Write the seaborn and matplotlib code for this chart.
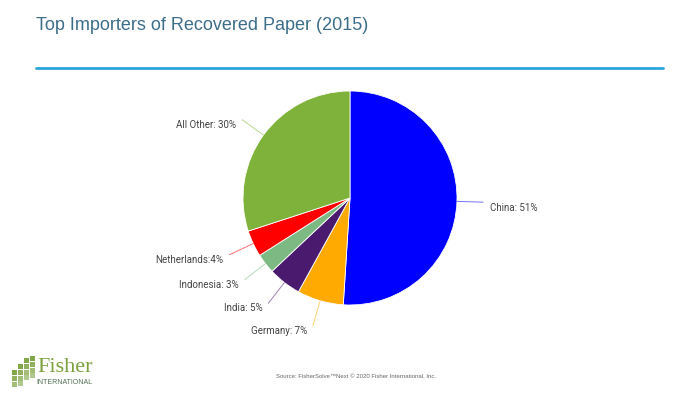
import numpy as np
import matplotlib.pyplot as plt
import matplotlib.patches as mpatches
import seaborn as sns

# Data
countries = ['China', 'Germany', 'India', 'Indonesia', 'Netherlands', 'All Other']
shares = [51, 7, 5, 3, 4, 30]
labels = ['China: 51%', 'Germany: 7%', 'India: 5%', 'Indonesia: 3%',
          'Netherlands:4%', 'All Other: 30%']
colors = ['#0000FF', '#FFAA00', '#4A1A6E', '#7DB983', '#FF0000', '#7FB23A']

sns.set_theme(style='white')
plt.rcParams['font.family'] = ['Roboto', 'DejaVu Sans']

fig = plt.figure(figsize=(7, 3.93), dpi=100)
ax = fig.add_axes([0, 0, 1, 1])

cx, cy, r = 350, 393 - 198, 107
wedges, _ = ax.pie(shares, colors=colors, startangle=90, counterclock=False,
                   center=(cx, cy), radius=r,
                   wedgeprops=dict(edgecolor='white', linewidth=0.6))
ax.set_xlim(0, 700)
ax.set_ylim(0, 393)
ax.set_aspect('equal')
ax.axis('off')

# leader lines and labels
for w, lab, col in zip(wedges, labels, colors):
    mid = np.deg2rad((w.theta1 + w.theta2) / 2)
    x0, y0 = cx + r * np.cos(mid), cy + r * np.sin(mid)
    x1, y1 = cx + 1.245 * r * np.cos(mid), cy + 1.245 * r * np.sin(mid)
    ax.plot([x0, x1], [y0, y1], color=col, lw=0.7, alpha=0.55)
    if np.cos(mid) > 0:
        ax.text(x1 + 7, y1 - 6, lab, ha='left', va='center', fontsize=7.0, color='#444444')
    else:
        ax.text(x1 - 6, y1 - 5, lab, ha='right', va='center', fontsize=7.0, color='#444444')

# header
fig.text(36 / 700, 1 - 26 / 393, 'Top Importers of Recovered Paper (2015)',
         ha='left', va='center', fontsize=13, color='#3C6E8A',
         family=['Liberation Sans Narrow', 'Liberation Sans', 'DejaVu Sans'])
ax.plot([36, 663], [393 - 68, 393 - 68], color='#2AA6DC', lw=2)

# footer
fig.text(276 / 700, 1 - 377 / 393,
         'Source: FisherSolve\u2122Next \u00a9 2020 Fisher International, Inc.',
         ha='left', va='center', fontsize=4.3, color='#666666',
         family=['Liberation Sans', 'DejaVu Sans'])

# logo
green = '#7BA23F'
cols = [(12, 370, 3), (18, 364, 4), (24, 358, 4), (30, 356, 4)]
for bx, top, n in cols:
    for k in range(n):
        y_top = top + k * 5.8
        if y_top + 5 > 387:
            break
        ax.add_patch(mpatches.Rectangle((bx, 393 - y_top - 5), 5, 5,
                                        facecolor=green, edgecolor='none',
                                        alpha=0.95 - 0.12 * k))
fig.text(37 / 700, 1 - 367 / 393, 'Fisher', ha='left', va='center', fontsize=16,
         color=green, family=['Liberation Serif', 'DejaVu Serif'])
fig.text(36 / 700, 1 - 383 / 393, 'INTERNATIONAL', ha='left', va='center', fontsize=5,
         color='#557055', family=['Liberation Sans', 'DejaVu Sans'])

fig.savefig('out.png', dpi=100)
